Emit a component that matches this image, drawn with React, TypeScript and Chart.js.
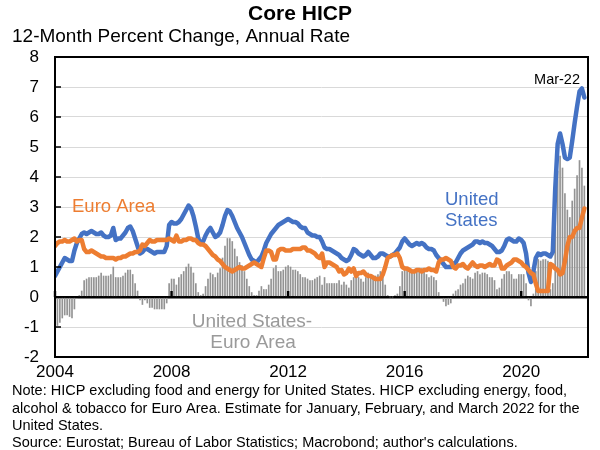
import { useEffect, useRef } from 'react';
import { Chart, registerables } from 'chart.js';

Chart.register(...registerables);

// Monthly data, Jan 2004 .. Mar 2022 (12-month % change)
const usCore: number[] = [
  0.7, 0.85, 1.0, 1.15, 1.3, 1.25, 1.2, 1.2, 1.55, 1.8, 1.95, 2.1, // 2004
  2.15, 2.1, 2.15, 2.2, 2.15, 2.1, 2.1, 2.15, 2.05, 2.0, 2.0, 2.05, // 2005
  2.3, 1.9, 1.95, 1.95, 2.05, 2.15, 2.3, 2.35, 2.2, 1.95, 1.7, 1.45, // 2006
  1.5, 1.6, 1.6, 1.55, 1.5, 1.45, 1.5, 1.5, 1.5, 1.5, 1.7, 2.4, // 2007
  2.5, 2.45, 2.45, 2.5, 2.6, 2.75, 2.9, 3.05, 2.95, 2.7, 2.35, 1.95, // 2008
  1.8, 1.85, 2.05, 2.2, 2.3, 2.15, 2.0, 2.05, 2.15, 2.4, 2.7, 2.9, // 2009
  2.85, 2.7, 2.5, 2.3, 2.15, 2.0, 1.8, 1.6, 1.4, 1.25, 1.2, 1.15, // 2010
  1.25, 1.35, 1.55, 1.8, 1.95, 2.1, 2.2, 2.3, 2.4, 2.45, 2.5, 2.55, // 2011
  2.6, 2.55, 2.5, 2.5, 2.45, 2.35, 2.3, 2.3, 2.15, 2.1, 2.05, 2.05, // 2012
  2.0, 2.0, 1.85, 1.65, 1.6, 1.6, 1.55, 1.5, 1.45, 1.4, 1.3, 1.25, // 2013
  1.2, 1.25, 1.4, 1.6, 1.55, 1.45, 1.4, 1.35, 1.4, 1.5, 1.4, 1.3, // 2014
  1.3, 1.35, 1.45, 1.45, 1.4, 1.35, 1.35, 1.4, 1.45, 1.55, 1.65, 1.85, // 2015
  1.95, 1.85, 1.75, 1.7, 1.75, 1.8, 1.75, 1.8, 1.75, 1.65, 1.6, 1.6, // 2016
  1.55, 1.4, 1.3, 1.2, 1.1, 1.0, 1.0, 1.0, 1.1, 1.15, 1.3, 1.45, // 2017
  1.55, 1.6, 1.65, 1.7, 1.75, 1.85, 1.85, 1.8, 1.85, 1.8, 1.8, 1.75, // 2018
  1.7, 1.6, 1.5, 1.5, 1.55, 1.7, 1.9, 1.95, 1.9, 1.85, 1.85, 1.95, // 2019
  1.9, 1.8, 1.45, 0.8, 0.5, 0.85, 1.3, 1.45, 1.4, 1.45, 1.45, 1.4, // 2020
  1.35, 1.5, 3.6, 5.1, 5.45, 5.1, 4.65, 4.6, 4.65, 5.2, 5.8, 6.35, // 2021
  6.85, 6.95, 6.65, // 2022
];

const euroCore: number[] = [
  1.7, 1.8, 1.85, 1.85, 1.9, 1.85, 1.85, 1.9, 1.95, 1.85, 1.9, 1.9, // 2004
  1.6, 1.5, 1.5, 1.55, 1.5, 1.45, 1.4, 1.35, 1.35, 1.3, 1.3, 1.3, // 2005
  1.3, 1.25, 1.3, 1.3, 1.35, 1.35, 1.4, 1.45, 1.45, 1.5, 1.5, 1.55, // 2006
  1.75, 1.7, 1.8, 1.9, 1.85, 1.85, 1.9, 1.9, 1.9, 1.9, 1.9, 1.95, // 2007
  1.9, 1.85, 2.05, 1.85, 1.85, 1.9, 1.9, 1.95, 1.95, 1.9, 1.9, 1.8, // 2008
  1.75, 1.75, 1.7, 1.6, 1.5, 1.4, 1.35, 1.25, 1.2, 1.1, 1.0, 0.95, // 2009
  0.9, 0.85, 0.9, 0.95, 1.0, 0.95, 0.95, 1.0, 1.05, 1.1, 1.15, 1.1, // 2010
  1.05, 1.0, 1.3, 1.55, 1.55, 1.5, 1.25, 1.25, 1.55, 1.6, 1.6, 1.55, // 2011
  1.55, 1.55, 1.6, 1.6, 1.6, 1.6, 1.65, 1.65, 1.55, 1.55, 1.5, 1.45, // 2012
  1.35, 1.3, 1.45, 1.0, 1.15, 1.15, 1.1, 1.05, 1.0, 0.85, 0.9, 0.75, // 2013
  0.8, 0.95, 0.85, 0.95, 0.7, 0.8, 0.8, 0.85, 0.75, 0.7, 0.7, 0.65, // 2014
  0.6, 0.6, 0.6, 0.75, 1.0, 1.3, 1.35, 1.4, 1.4, 1.45, 1.3, 1.0, // 2015
  0.95, 0.95, 0.9, 0.85, 0.85, 0.9, 0.9, 0.85, 0.9, 0.9, 0.95, 0.9, // 2016
  0.9, 0.85, 1.15, 1.25, 1.25, 1.3, 1.25, 1.2, 1.0, 0.95, 1.05, 1.05, // 2017
  1.1, 1.0, 0.95, 1.05, 1.15, 1.05, 1.0, 1.05, 1.05, 1.0, 1.05, 1.1, // 2018
  1.05, 1.05, 1.25, 1.2, 0.95, 0.95, 1.05, 1.1, 1.15, 1.25, 1.25, 1.2, // 2019
  1.15, 1.05, 1.0, 0.9, 0.8, 0.75, 0.45, 0.2, 0.2, 0.2, 0.2, 0.2, // 2020
  1.1, 1.05, 0.95, 0.9, 0.75, 0.8, 1.2, 1.7, 2.0, 2.0, 2.2, 2.3, // 2021
  2.3, 2.65, 2.95, // 2022
];

const usMinusEuro: number[] = [
  -1.0, -0.95, -0.85, -0.7, -0.6, -0.6, -0.65, -0.7, -0.4, -0.05, 0.05, 0.2, // 2004
  0.55, 0.6, 0.65, 0.65, 0.65, 0.65, 0.7, 0.8, 0.7, 0.7, 0.7, 0.75, // 2005
  1.0, 0.65, 0.65, 0.65, 0.7, 0.8, 0.9, 0.9, 0.75, 0.45, 0.2, -0.1, // 2006
  -0.25, -0.1, -0.2, -0.35, -0.35, -0.4, -0.4, -0.4, -0.4, -0.4, -0.2, 0.45, // 2007
  0.6, 0.6, 0.4, 0.65, 0.75, 0.85, 1.0, 1.1, 1.0, 0.8, 0.45, 0.15, // 2008
  0.05, 0.1, 0.35, 0.6, 0.8, 0.75, 0.65, 0.8, 0.95, 1.3, 1.7, 1.95, // 2009
  1.95, 1.85, 1.6, 1.35, 1.15, 1.05, 0.85, 0.6, 0.35, 0.15, 0.05, 0.05, // 2010
  0.2, 0.35, 0.25, 0.25, 0.4, 0.6, 0.95, 1.05, 0.85, 0.85, 0.9, 1.0, // 2011
  1.05, 1.0, 0.9, 0.9, 0.85, 0.75, 0.65, 0.65, 0.6, 0.55, 0.55, 0.6, // 2012
  0.65, 0.7, 0.4, 0.65, 0.45, 0.45, 0.45, 0.45, 0.45, 0.55, 0.4, 0.5, // 2013
  0.4, 0.3, 0.55, 0.65, 0.85, 0.65, 0.6, 0.5, 0.65, 0.8, 0.7, 0.65, // 2014
  0.7, 0.75, 0.85, 0.7, 0.4, 0.05, 0.0, 0.0, 0.05, 0.1, 0.35, 0.85, // 2015
  1.0, 0.9, 0.85, 0.85, 0.9, 0.9, 0.85, 0.95, 0.85, 0.75, 0.65, 0.7, // 2016
  0.65, 0.55, 0.15, -0.05, -0.15, -0.3, -0.25, -0.2, 0.1, 0.2, 0.25, 0.4, // 2017
  0.45, 0.6, 0.7, 0.65, 0.6, 0.8, 0.85, 0.75, 0.8, 0.8, 0.75, 0.65, // 2018
  0.65, 0.55, 0.25, 0.3, 0.6, 0.75, 0.85, 0.85, 0.75, 0.6, 0.6, 0.75, // 2019
  0.75, 0.75, 0.45, -0.1, -0.3, 0.1, 0.85, 1.25, 1.2, 1.25, 1.25, 1.2, // 2020
  0.25, 0.45, 2.65, 4.2, 4.7, 4.3, 3.45, 2.9, 2.65, 3.2, 3.6, 4.05, // 2021
  4.55, 4.3, 3.7, // 2022
];

const startYear = 2004;
const yearTickLabels: number[] = [2004, 2008, 2012, 2016, 2020];
const lastLabel = 'Mar-22';
const noteLines: string[] = [
  'Note: HICP excluding food and energy for United States. HICP excluding energy, food,',
  'alcohol & tobacco for Euro Area. Estimate for January, February, and March 2022 for the',
  'United States.',
  'Source: Eurostat; Bureau of Labor Statistics; Macrobond; author\'s calculations.',
];

const FONT = "'Liberation Sans', Arial, Helvetica, sans-serif";
const BLUE = '#4472C4';
const ORANGE = '#ED7D31';

const toPoints = (arr: number[]) => arr.map((v, i) => ({ x: i, y: v }));

const overlayPlugin = {
  id: 'overlay',
  afterDatasetsDraw(chart: any) {
    const { ctx, chartArea: a, scales } = chart;
    const xs = scales.x;
    const ys = scales.y;
    ctx.save();
    // year tick marks on the zero line
    ctx.fillStyle = '#000';
    const y0 = ys.getPixelForValue(0);
    yearTickLabels.forEach((yr) => {
      const px = xs.getPixelForValue((yr - startYear) * 12);
      ctx.fillRect(px - 1.2, y0 - 6, 2.4, 6);
    });
    // inner y tick marks
    ctx.strokeStyle = '#000';
    ctx.lineWidth = 1.5;
    for (let v = -1; v <= 7; v++) {
      const py = ys.getPixelForValue(v);
      ctx.beginPath();
      ctx.moveTo(a.left, py);
      ctx.lineTo(a.left + 6, py);
      ctx.stroke();
    }
    // frame
    ctx.lineWidth = 2;
    ctx.strokeRect(a.left, a.top, a.right - a.left, a.bottom - a.top);
    ctx.restore();
  },
  afterDraw(chart: any) {
    const { ctx } = chart;
    ctx.save();
    ctx.textBaseline = 'middle';
    // title
    ctx.fillStyle = '#000';
    ctx.textAlign = 'center';
    ctx.font = `bold 21px ${FONT}`;
    ctx.fillText('Core HICP', 300, 14);
    ctx.textAlign = 'left';
    ctx.font = `19px ${FONT}`;
    ctx.fillText('12-Month Percent Change, Annual Rate', 12, 37);
    // in-plot labels
    ctx.font = `14.5px ${FONT}`;
    ctx.textAlign = 'right';
    ctx.fillText(lastLabel, 580, 80);
    ctx.textAlign = 'left';
    ctx.font = `18.5px ${FONT}`;
    ctx.fillStyle = ORANGE;
    ctx.fillText('Euro Area', 72, 207);
    ctx.fillStyle = BLUE;
    ctx.fillText('United', 445, 200);
    ctx.fillText('States', 445, 221);
    ctx.fillStyle = '#9a9a9a';
    ctx.textAlign = 'center';
    ctx.font = `19px ${FONT}`;
    ctx.fillText('United States-', 252, 322);
    ctx.fillText('Euro Area', 253, 343);
    // notes
    ctx.fillStyle = '#000';
    ctx.textAlign = 'left';
    ctx.font = `14.5px ${FONT}`;
    const ys = [391, 408.5, 426, 443];
    noteLines.forEach((t, i) => ctx.fillText(t, 12, ys[i], 586));
    ctx.restore();
  },
};

export default function App() {
  const ref = useRef<HTMLCanvasElement | null>(null);
  useEffect(() => {
    if (!ref.current) return;
    Chart.defaults.font.family = FONT;
    const chart = new Chart(ref.current, {
      type: 'bar',
      data: {
        datasets: [
          {
            type: 'line',
            label: 'Euro Area',
            data: toPoints(euroCore),
            borderColor: ORANGE,
            borderWidth: 4.5,
            pointRadius: 0,
            tension: 0,
            borderJoinStyle: 'round',
            borderCapStyle: 'round',
            order: 1,
          } as any,
          {
            type: 'line',
            label: 'United States',
            data: toPoints(usCore),
            borderColor: BLUE,
            borderWidth: 4.5,
            pointRadius: 0,
            tension: 0,
            borderJoinStyle: 'round',
            borderCapStyle: 'round',
            order: 2,
          } as any,
          {
            type: 'bar',
            label: 'United States-Euro Area',
            data: toPoints(usMinusEuro),
            backgroundColor: '#939393',
            barThickness: 1,
            order: 3,
          } as any,
        ],
      },
      options: {
        responsive: false,
        animation: false,
        layout: { padding: { top: 57, left: 0, right: 12, bottom: 71 } },
        plugins: { legend: { display: false }, tooltip: { enabled: false }, title: { display: false } },
        scales: {
          x: { type: 'linear', min: 0, max: 219.5, display: false, offset: false },
          x2: {
            type: 'linear',
            position: 'bottom',
            min: 0,
            max: 219.5,
            offset: false,
            afterBuildTicks: (s: any) => {
              s.ticks = yearTickLabels.map((yr) => ({ value: (yr - startYear) * 12 }));
            },
            afterFit: (s: any) => { s.height = 22; },
            ticks: {
              color: '#000',
              font: { size: 17 },
              padding: 5,
              autoSkip: false,
              maxRotation: 0,
              callback: (v: any) => String(startYear + Math.round(Number(v) / 12)),
            },
            grid: { display: false, drawTicks: false, offset: false },
            border: { display: false },
          },
          y: {
            min: -2,
            max: 8,
            afterFit: (s: any) => { s.width = 55; },
            ticks: { stepSize: 1, color: '#000', font: { size: 17 }, padding: 16 },
            grid: {
              drawTicks: false,
              color: (c: any) => (c.tick && c.tick.value === 0 ? '#000' : '#d9d9d9'),
              lineWidth: (c: any) => (c.tick && c.tick.value === 0 ? 2.5 : 1),
            },
            border: { display: false },
          },
        },
      } as any,
      plugins: [overlayPlugin],
    });
    return () => chart.destroy();
  }, []);
  return (
    <div style={{ position: 'fixed', left: 0, top: 0, width: 600, height: 450, background: '#fff' }}>
      <canvas ref={ref} width={600} height={450} style={{ display: 'block' }} />
    </div>
  );
}
